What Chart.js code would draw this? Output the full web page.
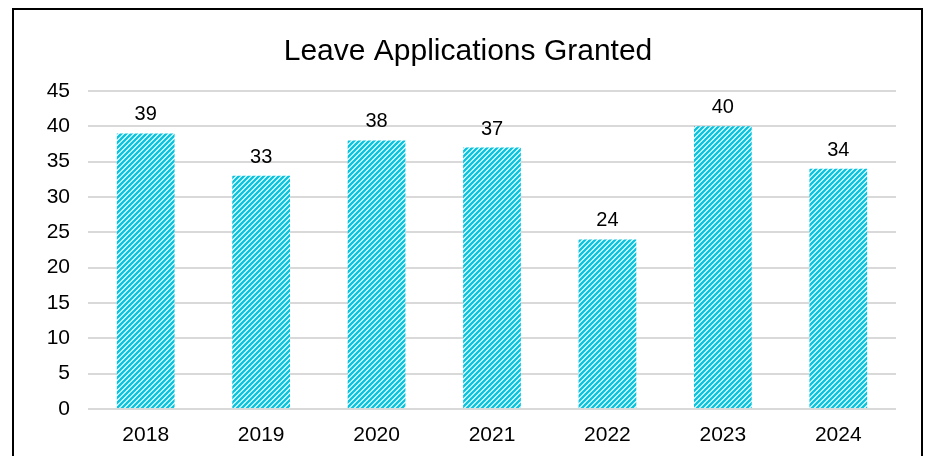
<!DOCTYPE html>
<html>
<head>
<meta charset="utf-8">
<script src="https://cdn.jsdelivr.net/npm/chart.js@4.4.1/dist/chart.umd.min.js"></script>
<style>
  html, body { margin: 0; padding: 0; background: #ffffff; }
  #wrap { width: 928px; height: 456px; position: relative; }
</style>
</head>
<body>
<div id="wrap"><canvas id="chart" width="928" height="456"></canvas></div>
<script>
// Chart content
const chartTitle = 'Leave Applications Granted';
const years = ['2018', '2019', '2020', '2021', '2022', '2023', '2024'];
const granted = [39, 33, 38, 37, 24, 40, 34];
const yTicks = [0, 5, 10, 15, 20, 25, 30, 35, 40, 45];

const FONT = '"Liberation Sans", Arial, sans-serif';
const HATCH = 'rgb(8, 196, 224)';

// Diagonal (up-right) stripe fill for the bars
function makeHatch() {
  const n = 10, step = 5;
  const c = document.createElement('canvas');
  c.width = n; c.height = n;
  const g = c.getContext('2d');
  g.fillStyle = '#ffffff';
  g.fillRect(0, 0, n, n);
  g.strokeStyle = HATCH;
  g.lineWidth = 2.4;
  g.lineCap = 'square';
  for (let x0 = -2 * n; x0 <= 2 * n; x0 += step) {
    g.beginPath();
    g.moveTo(x0, n);
    g.lineTo(x0 + n, 0);
    g.stroke();
  }
  return g.createPattern(c, 'repeat');
}

// Outer frame and title
const framePlugin = {
  id: 'frame',
  beforeDraw(chart) {
    const ctx = chart.ctx;
    ctx.save();
    ctx.fillStyle = '#ffffff';
    ctx.fillRect(0, 0, chart.width, chart.height);
    ctx.strokeStyle = '#000000';
    ctx.lineWidth = 2;
    ctx.strokeRect(13, 9, 909, 470);
    ctx.fillStyle = '#000000';
    ctx.font = '30px ' + FONT;
    ctx.textAlign = 'center';
    ctx.textBaseline = 'alphabetic';
    ctx.fillText(chartTitle, 468, 60);
    ctx.restore();
  }
};

// Value labels above each bar
const valueLabels = {
  id: 'valueLabels',
  afterDatasetsDraw(chart) {
    const ctx = chart.ctx;
    const meta = chart.getDatasetMeta(0);
    ctx.save();
    ctx.fillStyle = '#000000';
    ctx.font = '20px ' + FONT;
    ctx.textAlign = 'center';
    ctx.textBaseline = 'alphabetic';
    meta.data.forEach((bar, i) => {
      ctx.fillText(String(granted[i]), bar.x, bar.y - 13);
    });
    ctx.restore();
  }
};

new Chart(document.getElementById('chart'), {
  type: 'bar',
  data: {
    labels: years,
    datasets: [{
      data: granted,
      backgroundColor: makeHatch(),
      borderWidth: 0,
      categoryPercentage: 1.0,
      barPercentage: 0.5
    }]
  },
  options: {
    responsive: false,
    animation: false,
    devicePixelRatio: 1,
    layout: { padding: { left: 0, right: 32, top: 91, bottom: 0 } },
    plugins: {
      legend: { display: false },
      title: { display: false },
      tooltip: { enabled: false }
    },
    scales: {
      x: {
        grid: { display: false, drawTicks: false },
        border: { display: false },
        ticks: { color: '#000000', font: { family: FONT, size: 21 }, padding: 14, maxRotation: 0 },
        afterFit(scale) { scale.height = 47; }
      },
      y: {
        min: 0,
        max: 45,
        afterBuildTicks(scale) { scale.ticks = yTicks.map(v => ({ value: v })); },
        grid: { color: '#d9d9d9', lineWidth: 2, drawTicks: false },
        border: { display: false },
        ticks: { color: '#000000', font: { family: FONT, size: 21 }, padding: 18 },
        afterFit(scale) { scale.width = 88; }
      }
    }
  },
  plugins: [framePlugin, valueLabels]
});
</script>
</body>
</html>
